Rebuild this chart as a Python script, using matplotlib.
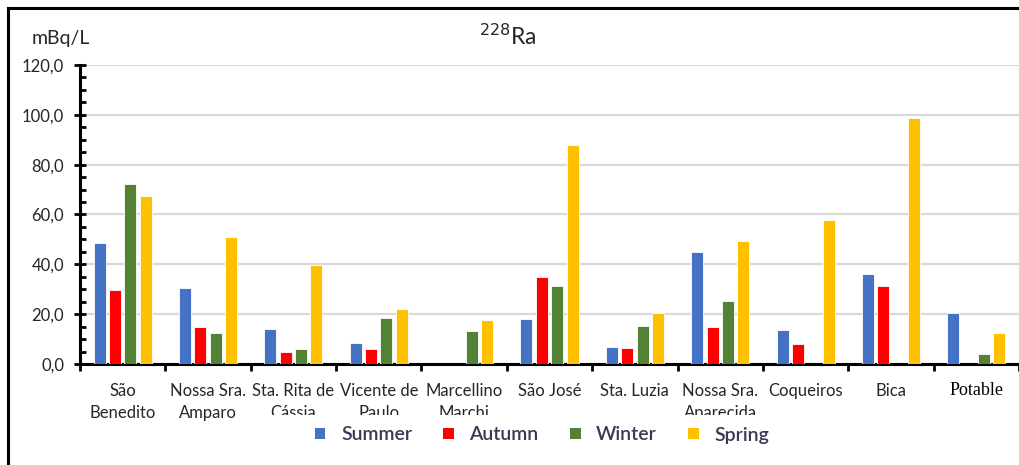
import numpy as np
import matplotlib.pyplot as plt
from matplotlib.patches import Patch
from matplotlib.lines import Line2D
from matplotlib.transforms import Bbox

# Data
sites = ['São\nBenedito', 'Nossa Sra.\nAmparo', 'Sta. Rita de\nCássia', 'Vicente de\nPaulo',
         'Marcellino\nMarchi', 'São José', 'Sta. Luzia', 'Nossa Sra.\nAparecida',
         'Coqueiros', 'Bica', 'Potable']
summer = [48.7, 30.4, 14.1, 8.6, 0.0, 18.1, 6.8, 44.9, 13.7, 36.0, 20.3]
autumn = [29.7, 14.7, 4.7, 5.9, 0.0, 34.8, 6.4, 14.7, 8.0, 31.5, 0.0]
winter = [72.3, 12.3, 5.9, 18.6, 13.1, 31.5, 15.3, 25.3, 0.0, 0.0, 4.0]
spring = [67.6, 51.0, 39.9, 22.0, 17.5, 87.7, 20.3, 49.3, 57.6, 98.8, 12.4]
seasons = ['Summer', 'Autumn', 'Winter', 'Spring']
colors = ['#4472C4', '#FF0000', '#548235', '#FFC000']

# labels whose second line is cut off in the original
clipped = ['Sta. Rita de\nCássia', 'Vicente de\nPaulo', 'Marcellino\nMarchi', 'Nossa Sra.\nAparecida']

plt.rcParams['font.family'] = ['Lato', 'DejaVu Sans']

fig = plt.figure(figsize=(10.2, 4.65), dpi=100)
ax = fig.add_axes([80 / 1020, 1 - 364 / 465, 939 / 1020, 299 / 465])

x = np.arange(len(sites))
bar_w = 0.14
step = 0.18
for i, (vals, c) in enumerate(zip([summer, autumn, winter, spring], colors)):
    v = np.array(vals, dtype=float)
    v[v == 0] = np.nan  # no bar drawn for missing values
    ax.bar(x + (i - 1.5) * step, v, bar_w, color=c, edgecolor='white', linewidth=0.6, zorder=3)

ax.set_xlim(-0.5, len(sites) - 0.5)
ax.set_ylim(0, 120)

# y axis
ax.set_yticks(np.arange(0, 121, 20))
ax.set_yticklabels([f'{v:.1f}'.replace('.', ',') for v in np.arange(0, 121, 20)], fontsize=12, color='#262626')
ax.set_yticks(np.arange(0, 121, 5), minor=True)
ax.tick_params(axis='y', which='major', direction='inout', length=9, width=2, pad=7)
ax.tick_params(axis='y', which='minor', direction='in', length=4, width=2)
ax.yaxis.grid(True, which='major', color='#d9d9d9', linewidth=1.6, zorder=0)
ax.set_axisbelow(True)

# x axis: ticks at category borders, labels at centers
ax.set_xticks(np.arange(-0.5, len(sites), 1.0))
ax.set_xticklabels([])
ax.tick_params(axis='x', which='major', direction='out', length=5, width=2)
ax.set_xticks(x, minor=True)
ax.tick_params(axis='x', which='minor', length=0)

clip = Bbox.from_extents(0, 465 - 415, 1020, 465)
for xi, name in zip(x, sites):
    if name == 'Potable':
        ax.text(xi, -0.06, name, transform=ax.get_xaxis_transform(), ha='center', va='top',
                fontsize=13, family='Liberation Serif', color='black')
        continue
    t = ax.text(xi, -0.065, name, transform=ax.get_xaxis_transform(), ha='center', va='top',
                fontsize=12, linespacing=1.4, color='#262626')
    if name in clipped:
        t.set_clip_box(clip)
        t.set_clip_on(True)

for s in ['top', 'right']:
    ax.spines[s].set_visible(False)
ax.spines['left'].set_linewidth(2.2)
ax.spines['bottom'].set_linewidth(2.2)

# title and unit
fig.text(508 / 1020, 1 - 36 / 465, r'$^{228}$Ra', ha='center', va='center', fontsize=16.5, color='#262626')
fig.text(61 / 1020, 1 - 38 / 465, 'mBq/L', ha='center', va='center', fontsize=14, color='#262626')

# legend
handles = [Patch(facecolor=c, edgecolor='none') for c in colors]
leg = fig.legend(handles, seasons, loc='center', bbox_to_anchor=(542 / 1020, 1 - 435 / 465), ncol=4,
                 frameon=False, handlelength=0.55, handleheight=0.55, handletextpad=0.8,
                 columnspacing=1.6, prop={'weight': 'semibold', 'size': 14})
for txt in leg.get_texts():
    txt.set_color('#3a3a55')

# outer frame (left and top)
fig.add_artist(Line2D([8 / 1020, 8 / 1020], [0, 1 - 8 / 465], transform=fig.transFigure, color='black', linewidth=2.2))
fig.add_artist(Line2D([8 / 1020, 1], [1 - 8 / 465, 1 - 8 / 465], transform=fig.transFigure, color='black', linewidth=2.2))

plt.savefig('out.png', dpi=100)
